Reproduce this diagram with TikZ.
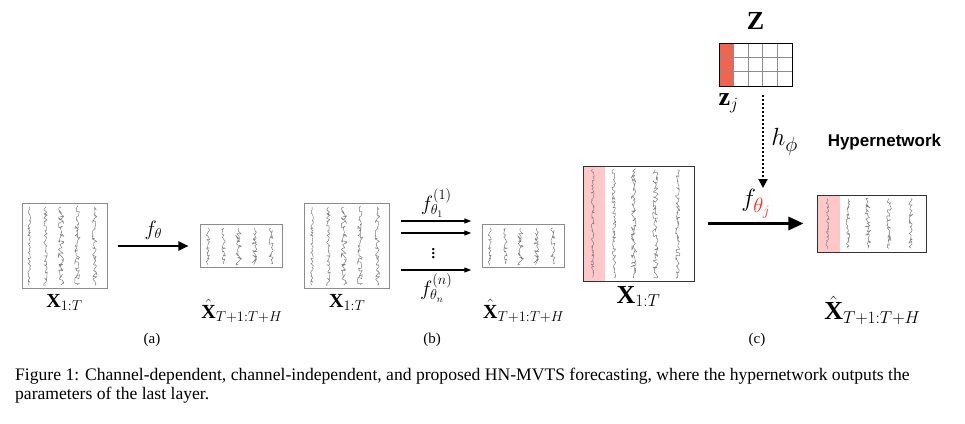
\documentclass[tikz,border=0pt]{standalone}
\usepackage{fontspec}
\setmainfont{Liberation Serif}
\setsansfont{Liberation Sans}
\usepackage{xcolor}
\usetikzlibrary{
arrows.meta,
positioning,
calc,
decorations,
decorations.pathmorphing % squiggles
}

\definecolor{stripred}{HTML}{FFC8C8}
\definecolor{zred}{HTML}{F26450}
\definecolor{thetared}{HTML}{FF2A1A}

% squiggly channels inside a box: #1 node, #2 seed
\newcommand{\tsfill}[2]{%
  \pgfmathsetseed{#2}%
  \foreach \fx/\amp in {0.09/1.7, 0.28/1.9, 0.46/3.0, 0.65/2.8, 0.85/2.3}{
    \draw[series, decoration={random steps, segment length=1.4pt, amplitude=\amp pt}]
      ($(#1.north west)!\fx!(#1.north east)+(0,4)$) -- ($(#1.south west)!\fx!(#1.south east)+(0,-4)$);
  }}

\begin{document}
\begin{tikzpicture}[
    x=1pt, y=-1pt,
    >={Triangle[angle=45:6pt,length=8pt]},
    tsbox/.style={draw=black!45, fill=white, line width=0.9pt, inner sep=0pt},
    cbox/.style={tsbox, draw=black!80,
      path picture={\fill[stripred] (path picture bounding box.north west)
        rectangle ([xshift=22pt]path picture bounding box.south west);}},
    series/.style={draw=black!50, line width=0.5pt, line join=round, decorate},
    bigarrow/.style={line width=2pt, -{Triangle[length=10pt,width=9pt]}},
    thinarrow/.style={line width=1.1pt, -{Triangle[length=7pt,width=5pt]}},
    hugearrow/.style={line width=3pt, -{Triangle[length=15pt,width=13pt]}},
    hyper/.style={line width=2pt, dotted, -{Triangle[length=9pt,width=9pt]}},
    lab/.style={font=\fontsize{20}{22}\selectfont},
    biglab/.style={font=\fontsize{26}{28}\selectfont},
    sub/.style={font=\fontsize{15}{17}\selectfont}
  ]
  \useasboundingbox (0,0) rectangle (965,423);

  % (a) channel-dependent
  \node[tsbox, minimum width=85, minimum height=85] (inA) at (64.5,246) {};
  \node[tsbox, minimum width=82, minimum height=43, right=93pt of inA] (outA) {};
  \node[lab, below=2pt of inA] (inAlab) {$\mathbf{X}_{1:T}$};
  \node[lab, below=28pt of outA] (outAlab) {$\hat{\mathbf{X}}_{T+1:T+H}$};
  \draw[bigarrow] ([xshift=11pt]inA.east) -- node[lab, above=2pt] (fA) {$f_\theta$} ([xshift=-12pt]outA.west);
  \tsfill{inA}{11}
  \tsfill{outA}{12}

  % (b) channel-independent
  \node[tsbox, minimum width=85, minimum height=85, right=21pt of outA] (inB) {};
  \node[tsbox, minimum width=82, minimum height=43, right=92pt of inB] (outB) {};
  \node[lab, below=2pt of inB] (inBlab) {$\mathbf{X}_{1:T}$};
  \node[lab, below=28pt of outB] (outBlab) {$\hat{\mathbf{X}}_{T+1:T+H}$};
  \draw[thinarrow] ([xshift=11pt,yshift=25pt]inB.east) -- node[lab, above=0pt] (fB1) {$f^{(1)}_{\theta_1}$} ([xshift=-11pt,yshift=25pt]outB.west);
  \draw[thinarrow] ([xshift=11pt,yshift=13pt]inB.east) -- ([xshift=-11pt,yshift=13pt]outB.west);
  \draw[thinarrow] ([xshift=11pt,yshift=-24pt]inB.east) -- node[lab, below=0pt] (fBn) {$f^{(n)}_{\theta_n}$} ([xshift=-11pt,yshift=-24pt]outB.west);
  \node[lab, inner sep=0pt] (dots) at ($(inB.east)!0.5!(outB.west)+(-3,5)$) {$\vdots$};
  \tsfill{inB}{11}
  \tsfill{outB}{12}

  % (c) HN-MVTS
  \node[cbox, minimum width=111, minimum height=115] (inC) at (638.5,223.5) {};
  \node[cbox, minimum width=109, minimum height=57, right=123pt of inC] (outC) {};
  \node[biglab, below=1pt of inC] (inClab) {$\mathbf{X}_{1:T}$};
  \node[biglab, below=40pt of outC] (outClab) {$\hat{\mathbf{X}}_{T+1:T+H}$};
  \draw[hugearrow] ([xshift=14pt]inC.east) -- node[biglab, font=\fontsize{30}{32}\selectfont, above=0pt] (fC) {$f_{\textcolor{thetared}{\theta_j}}$} ([xshift=-14pt]outC.west);
  \tsfill{inC}{21}
  \tsfill{outC}{22}

  % embeddings and hypernetwork
  \node[draw=black, line width=0.8pt, inner sep=0pt, minimum width=73, minimum height=43,
    path picture={
      \fill[zred] (path picture bounding box.north west) rectangle ($(path picture bounding box.south west)!0.2!(path picture bounding box.south east)$);
      \foreach \i in {1,...,4}
        \draw[black!45, line width=0.8pt] ($(path picture bounding box.north west)!\i/5!(path picture bounding box.north east)$) -- ($(path picture bounding box.south west)!\i/5!(path picture bounding box.south east)$);
      \foreach \i in {1,2}
        \draw[black!45, line width=0.8pt] ($(path picture bounding box.north west)!\i/3!(path picture bounding box.south west)$) -- ($(path picture bounding box.north east)!\i/3!(path picture bounding box.south east)$);
    }] (zgrid) at (755.5,64.5) {};
  \node[biglab, above=10pt of zgrid] (zlab) {$\mathbf{Z}$};
  \node[biglab, anchor=north] (zjlab) at ([xshift=10pt,yshift=-4pt]zgrid.south west) {$\mathbf{z}_j$};
  \coordinate (hstart) at ([xshift=7.5pt,yshift=-9pt]zgrid.south);
  \coordinate (hend) at (hstart |- 0,188);
  \draw[hyper] (hstart) -- node[biglab, font=\fontsize{30}{32}\selectfont, right=4pt] (hlab) {$h_\phi$} (hend);
  \node[font=\sffamily\bfseries\fontsize{17}{19}\selectfont, right=22pt of hlab] (hypernet) {Hypernetwork};

  % sub-captions and caption
  \node[sub] (subA) at (152,340) {(a)};
  \node[sub] (subB) at (432,340) {(b)};
  \node[sub] (subC) at (757,340) {(c)};
  \node[anchor=north west, align=left, inner sep=0pt, font=\fontsize{17.6}{19}\selectfont] (caption) at (15,368)
    {Figure 1: Channel-dependent, channel-independent, and proposed HN-MVTS forecasting, where the hypernetwork outputs the\\
     parameters of the last layer.};
\end{tikzpicture}
\end{document}
